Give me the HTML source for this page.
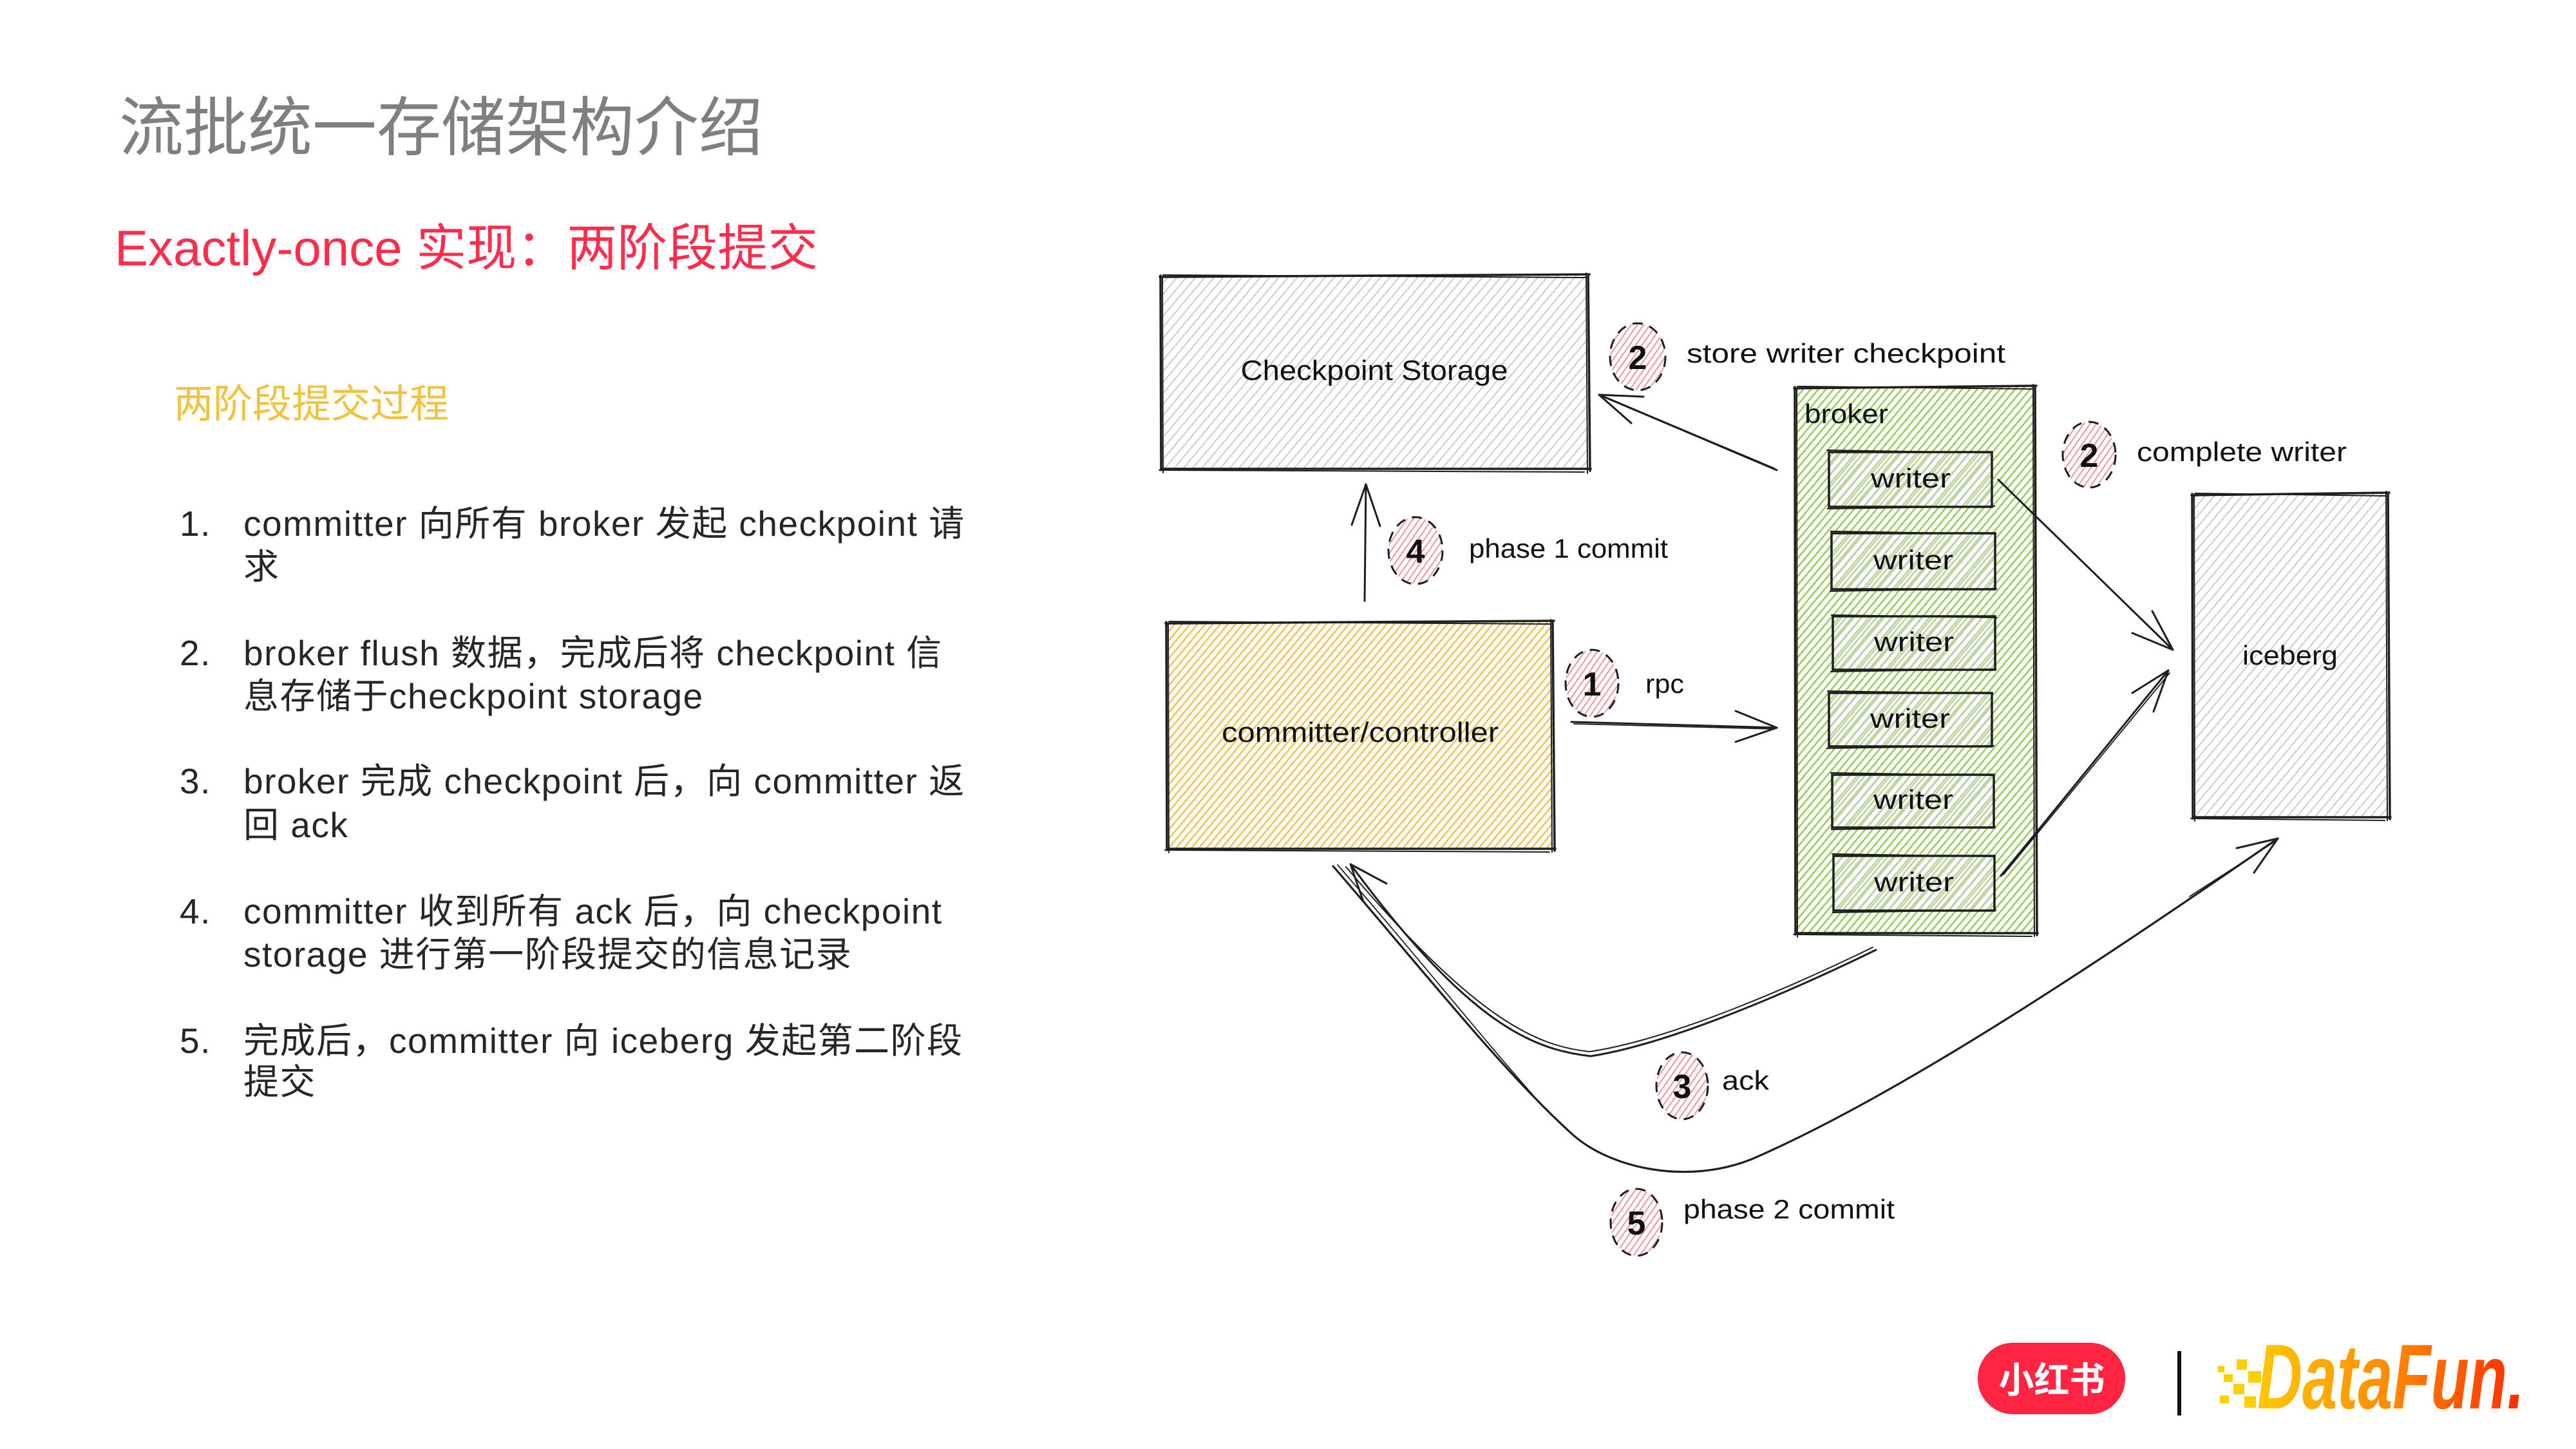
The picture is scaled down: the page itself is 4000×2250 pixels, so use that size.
<!DOCTYPE html>
<html>
<head>
<meta charset="utf-8">
<style>
  html,body{margin:0;padding:0;background:#fff;}
  body{width:4000px;height:2250px;position:relative;overflow:hidden;font-family:"Liberation Sans","Noto Sans CJK SC",sans-serif;}
  .t{position:absolute;white-space:nowrap;}
  .li{position:absolute;white-space:nowrap;font-size:55px;line-height:67px;color:#262626;letter-spacing:1.5px;}
</style>
</head>
<body>

<div class="t" style="left:185px;top:149px;font-size:100px;line-height:100px;color:#7f7f7f;">流批统一存储架构介绍</div>
<div class="t" style="left:178px;top:346px;font-size:78px;line-height:78px;color:#FF2D4B;">Exactly-once 实现：两阶段提交</div>
<div class="t" style="left:270px;top:597px;font-size:61px;line-height:61px;color:#F0C23E;">两阶段提交过程</div>

<div class="li" style="left:279px;top:780px;">1.</div>
<div class="li" style="left:378px;top:780px;">committer 向所有 broker 发起 checkpoint 请</div>
<div class="li" style="left:378px;top:847px;">求</div>

<div class="li" style="left:279px;top:981px;">2.</div>
<div class="li" style="left:378px;top:981px;">broker flush 数据，完成后将 checkpoint 信</div>
<div class="li" style="left:378px;top:1048px;">息存储于checkpoint storage</div>

<div class="li" style="left:279px;top:1180px;">3.</div>
<div class="li" style="left:378px;top:1180px;">broker 完成 checkpoint 后，向 committer 返</div>
<div class="li" style="left:378px;top:1248px;">回 ack</div>

<div class="li" style="left:279px;top:1382px;">4.</div>
<div class="li" style="left:378px;top:1382px;">committer 收到所有 ack 后，向 checkpoint</div>
<div class="li" style="left:378px;top:1449px;">storage 进行第一阶段提交的信息记录</div>

<div class="li" style="left:279px;top:1583px;">5.</div>
<div class="li" style="left:378px;top:1583px;">完成后，committer 向 iceberg 发起第二阶段</div>
<div class="li" style="left:378px;top:1647px;">提交</div>

<svg width="4000" height="2250" viewBox="0 0 4000 2250" style="position:absolute;left:0;top:0;" font-family="Liberation Sans, sans-serif">
  <defs>
    <pattern id="hGray" width="11" height="11" patternUnits="userSpaceOnUse" patternTransform="rotate(40)">
      <line x1="5" y1="0" x2="5" y2="11" stroke="#c9ced3" stroke-width="2"/>
    </pattern>
    <pattern id="hGrayW" width="12" height="12" patternUnits="userSpaceOnUse" patternTransform="rotate(40) translate(5,0)">
      <rect x="0" y="0" width="12" height="12" fill="rgba(255,255,255,0.25)"/>
      <line x1="6" y1="0" x2="6" y2="12" stroke="#c3c8c2" stroke-width="2.5"/>
    </pattern>
    <pattern id="hYellow" width="9" height="9" patternUnits="userSpaceOnUse" patternTransform="rotate(40)">
      <line x1="4.5" y1="0" x2="4.5" y2="9" stroke="#f2c250" stroke-width="2.6"/>
    </pattern>
    <pattern id="hGreen" width="9" height="9" patternUnits="userSpaceOnUse" patternTransform="rotate(40)">
      <line x1="4.5" y1="0" x2="4.5" y2="9" stroke="#9dcf62" stroke-width="2.8"/>
    </pattern>
    <pattern id="hRed" width="8" height="8" patternUnits="userSpaceOnUse" patternTransform="rotate(35)">
      <line x1="4" y1="0" x2="4" y2="8" stroke="#f0949c" stroke-width="2"/>
    </pattern>
    <linearGradient id="df" x1="0" x2="1" y1="0" y2="0">
      <stop offset="0" stop-color="#FFC800"/>
      <stop offset="0.5" stop-color="#FF8A00"/>
      <stop offset="1" stop-color="#FF2A00"/>
    </linearGradient>
  </defs>

  <!-- Checkpoint Storage -->
  <rect x="1803" y="428" width="663" height="300" fill="url(#hGray)"/>
  <g stroke="#1e1e1e" fill="none" stroke-linecap="round">
    <path d="M1801 430 L2468 426 M2466 426 L2469 731 M2470 728 L1803 728 M1803 730 L1802 428" stroke-width="3.5"/>
    <path d="M1806 427 L2462 431 M2463 424 L2465 735 M2460 733 L1800 730 M1806 734 L1805 430" stroke-width="2"/>
  </g>
  <text x="2134" y="590" font-size="44" text-anchor="middle" textLength="415" lengthAdjust="spacingAndGlyphs" fill="#111">Checkpoint Storage</text>

  <!-- Committer -->
  <rect x="1812" y="966" width="599" height="352" fill="url(#hYellow)"/>
  <g stroke="#1e1e1e" fill="none" stroke-linecap="round">
    <path d="M1810 968 L2413 964 M2411 964 L2414 1321 M2415 1318 L1812 1318 M1812 1320 L1811 966" stroke-width="3.5"/>
    <path d="M1815 965 L2407 969 M2408 962 L2410 1323 M2406 1323 L1809 1320 M1815 1324 L1814 968" stroke-width="2"/>
  </g>
  <text x="2112" y="1152" font-size="44" text-anchor="middle" textLength="430" lengthAdjust="spacingAndGlyphs" fill="#111">committer/controller</text>

  <!-- Broker -->
  <rect x="2788" y="601" width="372" height="848" fill="url(#hGreen)"/>
  <g stroke="#1e1e1e" fill="none" stroke-linecap="round">
    <path d="M2786 603 L3162 599 M3160 599 L3163 1452 M3164 1449 L2788 1449 M2788 1451 L2787 601" stroke-width="3.5"/>
    <path d="M2791 600 L3156 604 M3157 597 L3159 1454 M3155 1454 L2785 1451 M2791 1455 L2790 603" stroke-width="2"/>
  </g>
  <text x="2802" y="657" font-size="42" textLength="130" lengthAdjust="spacingAndGlyphs" fill="#111">broker</text>

  <!-- Writers -->
  <g>
    <rect x="2840" y="702" width="253" height="85" fill="url(#hGrayW)" stroke="#1e1e1e" stroke-width="3.5"/>
    <path d="M2836 699 L3093 703 M2837 790 L3098 786" stroke="#1e1e1e" stroke-width="2" fill="none"/>
    <text x="2967" y="757" font-size="42" text-anchor="middle" textLength="124" lengthAdjust="spacingAndGlyphs" fill="#111">writer</text>

    <rect x="2844" y="828" width="254" height="87" fill="url(#hGrayW)" stroke="#1e1e1e" stroke-width="3.5"/>
    <path d="M2842 825 L3100 829 M2841 918 L3101 914" stroke="#1e1e1e" stroke-width="2" fill="none"/>
    <text x="2971" y="884" font-size="42" text-anchor="middle" textLength="124" lengthAdjust="spacingAndGlyphs" fill="#111">writer</text>

    <rect x="2846" y="957" width="252" height="83" fill="url(#hGrayW)" stroke="#1e1e1e" stroke-width="3.5"/>
    <path d="M2843 955 L3101 959 M2842 1043 L3100 1039" stroke="#1e1e1e" stroke-width="2" fill="none"/>
    <text x="2972" y="1011" font-size="42" text-anchor="middle" textLength="124" lengthAdjust="spacingAndGlyphs" fill="#111">writer</text>

    <rect x="2840" y="1076" width="253" height="83" fill="url(#hGrayW)" stroke="#1e1e1e" stroke-width="3.5"/>
    <path d="M2837 1073 L3095 1077 M2836 1162 L3097 1158" stroke="#1e1e1e" stroke-width="2" fill="none"/>
    <text x="2966" y="1130" font-size="42" text-anchor="middle" textLength="124" lengthAdjust="spacingAndGlyphs" fill="#111">writer</text>

    <rect x="2845" y="1203" width="251" height="82" fill="url(#hGrayW)" stroke="#1e1e1e" stroke-width="3.5"/>
    <path d="M2842 1200 L3098 1204 M2843 1288 L3099 1284" stroke="#1e1e1e" stroke-width="2" fill="none"/>
    <text x="2971" y="1256" font-size="42" text-anchor="middle" textLength="124" lengthAdjust="spacingAndGlyphs" fill="#111">writer</text>

    <rect x="2847" y="1329" width="250" height="85" fill="url(#hGrayW)" stroke="#1e1e1e" stroke-width="3.5"/>
    <path d="M2844 1326 L3099 1330 M2845 1417 L3100 1413" stroke="#1e1e1e" stroke-width="2" fill="none"/>
    <text x="2972" y="1384" font-size="42" text-anchor="middle" textLength="124" lengthAdjust="spacingAndGlyphs" fill="#111">writer</text>
  </g>

  <!-- Iceberg -->
  <rect x="3405" y="767" width="303" height="502" fill="url(#hGray)"/>
  <g stroke="#1e1e1e" fill="none" stroke-linecap="round">
    <path d="M3403 769 L3710 765 M3708 765 L3711 1272 M3712 1269 L3405 1269 M3405 1271 L3404 767" stroke-width="3.5"/>
    <path d="M3408 766 L3704 770 M3705 763 L3707 1274 M3703 1274 L3402 1271 M3408 1275 L3407 769" stroke-width="2"/>
  </g>
  <text x="3556" y="1032" font-size="42" text-anchor="middle" textLength="148" lengthAdjust="spacingAndGlyphs" fill="#111">iceberg</text>

  <!-- Arrows -->
  <g stroke="#1e1e1e" fill="none" stroke-linecap="round" stroke-linejoin="round" stroke-width="3">
    <path d="M2759 730 L2483 613"/>
    <path d="M2755 727 L2487 614" stroke-width="1.8"/>
    <path d="M2552 616 L2483 613 L2533 657"/>
    <path d="M2119 933 L2121 752"/>
    <path d="M2099 815 L2121 752 L2143 817"/>
    <path d="M2440 1121 L2759 1130"/>
    <path d="M2444 1124 L2755 1132" stroke-width="1.8"/>
    <path d="M2695 1104 L2759 1130 L2695 1152"/>
    <path d="M3103 745 L3374 1009"/>
    <path d="M3342 949 L3374 1009 L3311 983"/>
    <path d="M3107 1360 L3367 1041"/>
    <path d="M3111 1358 L3369 1045" stroke-width="1.8"/>
    <path d="M3311 1076 L3367 1041 L3344 1105"/>
    <path d="M2913 1475 C2800 1530 2600 1620 2470 1640 C2380 1630 2280 1590 2097 1342"/>
    <path d="M2908 1471 C2795 1526 2598 1614 2468 1633 C2384 1624 2290 1582 2090 1346" stroke-width="2"/>
    <path d="M2153 1372 L2097 1342 L2117 1400"/>
    <path d="M2070 1345 C2200 1495 2330 1660 2440 1760 C2500 1815 2620 1840 2720 1800 C2950 1700 3250 1500 3537 1302" stroke-width="3.2"/>
    <path d="M2077 1343 C2205 1490 2300 1610 2380 1700" stroke-width="1.8"/>
    <path d="M3400 1392 L3535 1305" stroke-width="1.8"/>
    <path d="M3473 1317 L3537 1302 L3500 1355"/>
  </g>

  <!-- Step circles -->
  <g stroke="#1e1e1e" stroke-width="3" stroke-dasharray="16 11">
    <ellipse cx="2543" cy="554" rx="43" ry="52" fill="url(#hRed)"/>
    <ellipse cx="3244" cy="706" rx="41" ry="51" fill="url(#hRed)"/>
    <ellipse cx="2198" cy="855" rx="42" ry="52" fill="url(#hRed)"/>
    <ellipse cx="2472" cy="1061" rx="41" ry="52" fill="url(#hRed)"/>
    <ellipse cx="2612" cy="1686" rx="40" ry="52" fill="url(#hRed)"/>
    <ellipse cx="2541" cy="1898" rx="40" ry="52" fill="url(#hRed)"/>
  </g>
  <g font-size="52" font-weight="bold" text-anchor="middle" fill="#111">
    <text x="2543" y="573">2</text>
    <text x="3244" y="725">2</text>
    <text x="2198" y="874">4</text>
    <text x="2472" y="1080">1</text>
    <text x="2612" y="1705">3</text>
    <text x="2541" y="1917">5</text>
  </g>

  <!-- Step labels -->
  <g font-size="42" fill="#111">
    <text x="2619" y="563" textLength="495" lengthAdjust="spacingAndGlyphs">store writer checkpoint</text>
    <text x="3318" y="716" textLength="326" lengthAdjust="spacingAndGlyphs">complete writer</text>
    <text x="2281" y="866" textLength="309" lengthAdjust="spacingAndGlyphs">phase 1 commit</text>
    <text x="2555" y="1076" textLength="60" lengthAdjust="spacingAndGlyphs">rpc</text>
    <text x="2674" y="1692" textLength="73" lengthAdjust="spacingAndGlyphs">ack</text>
    <text x="2614" y="1892" textLength="328" lengthAdjust="spacingAndGlyphs">phase 2 commit</text>
  </g>

  <!-- Logos -->
  <rect x="3071" y="2085" width="229" height="111" rx="55" ry="55" fill="#FF2442"/>
  <text x="3186" y="2163" font-size="56" font-weight="bold" text-anchor="middle" fill="#fff" font-family="Noto Sans CJK SC, sans-serif" textLength="165" lengthAdjust="spacingAndGlyphs">小红书</text>
  <rect x="3381" y="2098" width="6" height="100" fill="#111"/>

  <g fill="#FFD000">
    <rect x="3444" y="2121" width="10" height="10"/>
    <rect x="3453" y="2134" width="14" height="12"/>
    <rect x="3473" y="2111" width="16" height="16"/>
    <rect x="3468" y="2149" width="17" height="16"/>
    <rect x="3491" y="2129" width="20" height="18"/>
    <rect x="3447" y="2167" width="14" height="12"/>
    <rect x="3485" y="2168" width="18" height="18"/>
  </g>
  <text x="3505" y="2187" font-size="143" font-weight="bold" font-style="italic" fill="url(#df)" textLength="415" lengthAdjust="spacingAndGlyphs">DataFun.</text>
</svg>

</body>
</html>
